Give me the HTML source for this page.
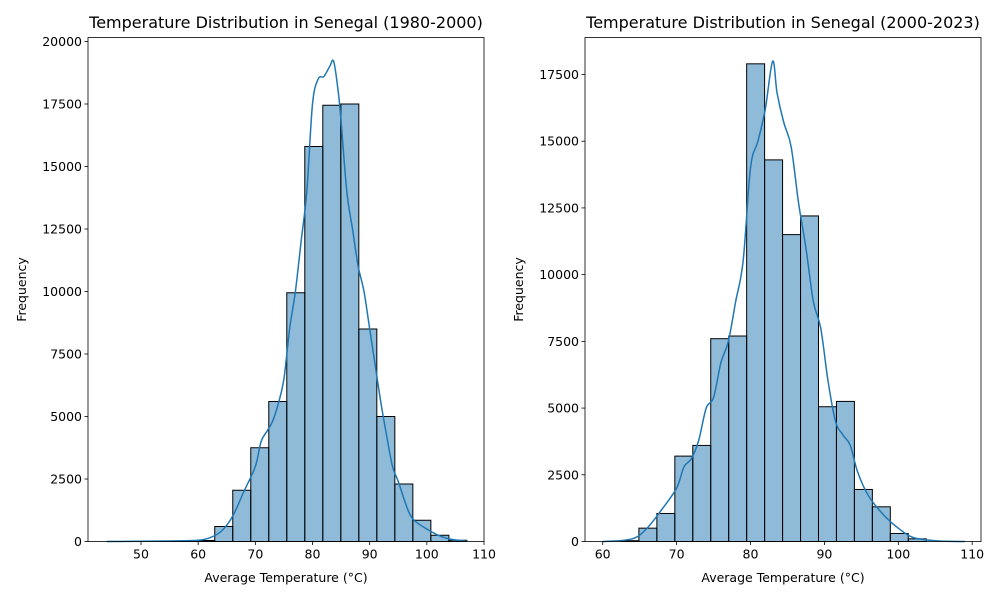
<!DOCTYPE html>
<html><head><meta charset="utf-8"><style>
body{margin:0;background:#fff}
svg text{font-family:"DejaVu Sans","Liberation Sans",sans-serif;fill:#000}
</style></head><body>
<svg id="c" width="1000" height="600" xmlns="http://www.w3.org/2000/svg"></svg>
<script>
// Left panel data (1980-2000)
const leftBinStart = 44.0;
const leftBinWidth = 3.15;
const leftCounts = [0,0,0,10,20,40,600,2050,3750,5600,9950,15800,17450,17500,8500,5000,2300,850,250,50];
const leftKdeX = [44,55,60,62,64,66,68,70,71,72,73,74,75,76,77,78,79,80,81,82,83,83.7,84.5,85,86,87,88,89,90,91,92,93,94,95,96,97,98,100,102,104,107];
const leftKdeY = [0,20,50,150,400,1000,2000,3000,4000,4400,4800,5500,6500,8500,10000,12000,14000,17500,18500,18600,19000,19200,18000,16800,14000,12500,11000,10000,8500,7000,5500,4200,3000,2400,1700,1100,800,500,250,100,10];
const leftXTicks = [50,60,70,80,90,100,110];
const leftYTicks = [0,2500,5000,7500,10000,12500,15000,17500,20000];
// Right panel data (2000-2023)
const rightBinStart = 60.04;
const rightBinWidth = 2.43;
const rightCounts = [0,30,500,1050,3200,3600,7600,7700,17900,14300,11500,12200,5050,5250,1950,1300,300,100,0,0];
const rightKdeX = [60,64,66,68,70,71,72,73,74,75,76,77,78,79,80,81,82,83,83.6,84.5,85.5,86.5,87.5,88.5,89.5,90.5,91.5,92.5,93.5,94.5,96,98,100,102,105,109];
const rightKdeY = [0,100,500,1200,2000,2800,3100,3800,5000,5400,6700,7500,9000,10500,14000,15000,16200,18000,16800,15700,14800,12700,11000,9000,8000,6000,4500,4000,3600,2600,1700,1000,500,150,30,0];
const rightXTicks = [60,70,80,90,100,110];
const rightYTicks = [0,2500,5000,7500,10000,12500,15000,17500];

const NS="http://www.w3.org/2000/svg";
const svg=document.getElementById('c');
function mk(tag,attrs,parent){const e=document.createElementNS(NS,tag);for(const k in attrs)e.setAttribute(k,attrs[k]);(parent||svg).appendChild(e);return e;}

function smoothPath(pts){
  let d='M'+pts[0][0].toFixed(1)+','+pts[0][1].toFixed(1);
  for(let i=0;i<pts.length-1;i++){
    const p0=pts[Math.max(0,i-1)],p1=pts[i],p2=pts[i+1],p3=pts[Math.min(pts.length-1,i+2)];
    const t=1/6;
    const c1=[p1[0]+(p2[0]-p0[0])*t,p1[1]+(p2[1]-p0[1])*t];
    const c2=[p2[0]-(p3[0]-p1[0])*t,p2[1]-(p3[1]-p1[1])*t];
    d+='C'+c1[0].toFixed(1)+','+c1[1].toFixed(1)+' '+c2[0].toFixed(1)+','+c2[1].toFixed(1)+' '+p2[0].toFixed(1)+','+p2[1].toFixed(1);
  }
  return d;
}

function panel(p){
  const g=mk('g',{});
  
  
  const sx=v=>p.x0+(v-p.xv0)*p.xs;
  const sy=v=>p.y0-v*p.ys;
  p.counts.forEach((c,i)=>{
    if(c<=0)return;
    const a=sx(p.bs+i*p.bw), b=sx(p.bs+(i+1)*p.bw);
    const r=mk('rect',{x:a,y:sy(c),width:b-a,height:sy(0)-sy(c),fill:'rgba(31,119,180,0.5)',stroke:'#000','stroke-width':1},g);
    
    
  });
  const pts=p.kx.map((x,i)=>[sx(x),sy(p.ky[i])]);
  const path=mk('path',{d:smoothPath(pts),fill:'none',stroke:'#1f77b4','stroke-width':1.5,'stroke-linejoin':'round'},g);
  
  
  const fr=mk('rect',{x:p.L,y:p.T,width:p.R-p.L,height:p.B-p.T,fill:'none',stroke:'#000','stroke-width':0.8},g);
  
  
  p.xt.forEach(t=>{
    const x=sx(t);
    mk('line',{x1:x,x2:x,y1:p.B,y2:p.B+3.5,stroke:'#000','stroke-width':0.8},g);
    const tx=mk('text',{x:x,y:p.B+17,'font-size':12.5,'text-anchor':'middle'},g);
    tx.textContent=t;
    
    
  });
  p.yt.forEach(t=>{
    const y=sy(t);
    mk('line',{x1:p.L-3.5,x2:p.L,y1:y,y2:y,stroke:'#000','stroke-width':0.8},g);
    const tx=mk('text',{x:p.L-6,y:y+4.5,'font-size':12.5,'text-anchor':'end'},g);
    tx.textContent=t;
    
    
  });
  const ti=mk('text',{x:(p.L+p.R)/2,y:28,'font-size':16,'text-anchor':'middle'},g);
  ti.textContent=p.title;
  
  
  const xl=mk('text',{x:(p.L+p.R)/2,y:582,'font-size':12.5,'text-anchor':'middle'},g);
  xl.textContent='Average Temperature (°C)';
  
  
  const yl=mk('text',{x:0,y:0,'font-size':12.5,'text-anchor':'middle',transform:'translate('+p.ylx+','+((p.T+p.B)/2)+') rotate(-90)'},g);
  yl.textContent='Frequency';
  
  
}
panel({name:'left-panel',title:'Temperature Distribution in Senegal (1980-2000)',L:88,R:484,T:37.5,B:541.5,
  x0:141,xv0:50,xs:5.717,y0:541.5,ys:500/20000,bs:leftBinStart,bw:leftBinWidth,counts:leftCounts,kx:leftKdeX,ky:leftKdeY,xt:leftXTicks,yt:leftYTicks,ylx:26});
panel({name:'right-panel',title:'Temperature Distribution in Senegal (2000-2023)',L:585,R:981,T:37.5,B:541.5,
  x0:602.7,xv0:60,xs:7.39,y0:541.5,ys:467/17500,bs:rightBinStart,bw:rightBinWidth,counts:rightCounts,kx:rightKdeX,ky:rightKdeY,xt:rightXTicks,yt:rightYTicks,ylx:523});
</script>
</body></html>
